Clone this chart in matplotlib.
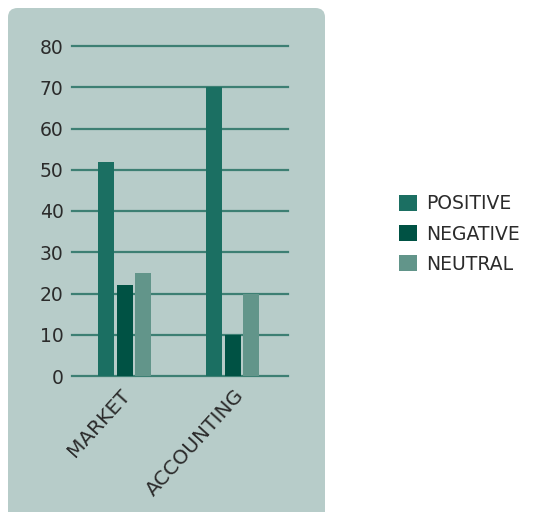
import numpy as np
import matplotlib.pyplot as plt
from matplotlib.patches import FancyBboxPatch, Patch

plt.rcParams['font.family'] = ['DejaVu Sans']

categories = ['MARKET', 'ACCOUNTING']
positive = [52, 70]
negative = [22, 10]
neutral = [25, 20]
series = ['POSITIVE', 'NEGATIVE', 'NEUTRAL']
colors = ['#1b6f62', '#005244', '#62958a']
panel_color = '#b7ccc9'
grid_color = '#3d7f73'
text_color = '#2b2b2b'

W, H = 537, 512
fig = plt.figure(figsize=(W / 100, H / 100), dpi=100)

# rounded panel behind the bars (runs off the bottom edge)
panel = FancyBboxPatch((8 / W, -20 / H), 317 / W, (H - 8 + 20) / H,
                       boxstyle='round,pad=0,rounding_size=0.018',
                       transform=fig.transFigure, facecolor=panel_color,
                       edgecolor='none', zorder=-10)
fig.patches.append(panel)

ax = fig.add_axes([72 / W, 1 - 376 / H, 216 / W, 330 / H])
ax.patch.set_alpha(0)

x = np.arange(len(categories))
width = 0.148
step = 0.171
for i, (vals, name, c) in enumerate(zip([positive, negative, neutral], series, colors)):
    ax.bar(x - 0.012 + (i - 1) * step, vals, width, color=c, label=name, zorder=3)

ax.set_xlim(-0.5, 1.5)
ax.set_ylim(0, 80)
ax.set_yticks(range(0, 81, 10))
ax.grid(axis='y', color=grid_color, linewidth=1.6, zorder=1)
for gl in ax.get_ygridlines():
    gl.set_clip_on(False)
ax.set_axisbelow(True)
for s in ax.spines.values():
    s.set_visible(False)
ax.tick_params(length=0, labelsize=13.5, colors=text_color)
ax.tick_params(axis='y', pad=6)
ax.set_xticks([x[0] - 0.06, x[1] + 0.0])
ax.set_xticklabels(categories, rotation=48, ha='right', rotation_mode='anchor',
                   fontsize=14.5)
ax.tick_params(axis='x', pad=7)

handles = [Patch(facecolor=c, edgecolor='none') for c in colors]
fig.legend(handles, series, loc='center left', bbox_to_anchor=(382 / W, 1 - 234 / H),
           frameon=False, fontsize=13.5, handlelength=0.95, handleheight=0.95,
           handletextpad=0.5, labelspacing=0.6, labelcolor=text_color)

fig.savefig('out.png', dpi=100)
